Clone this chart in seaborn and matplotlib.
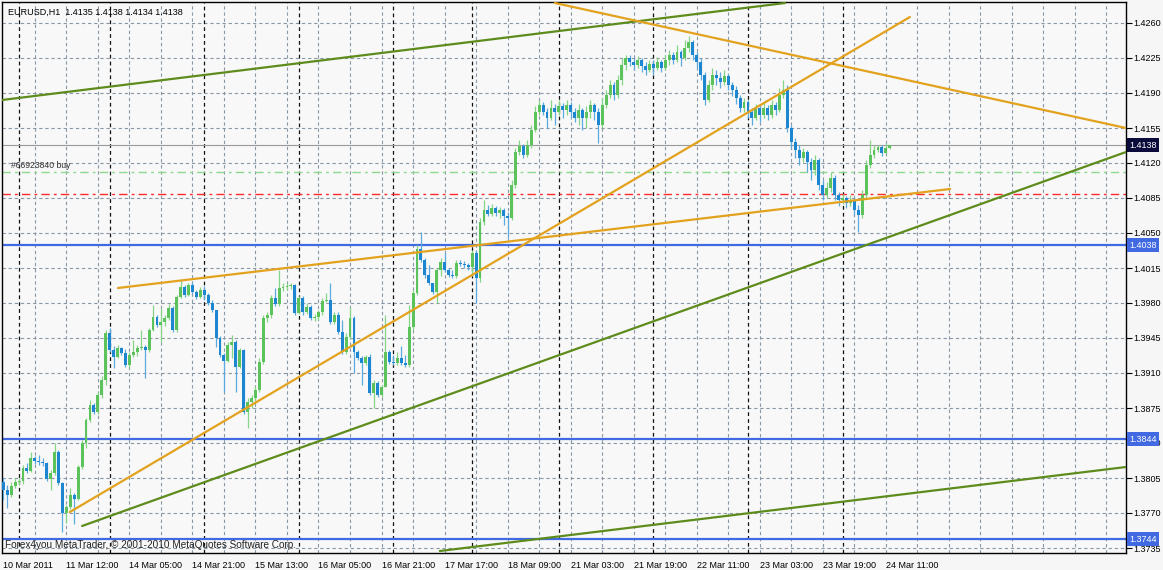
import numpy as np
import pandas as pd
import matplotlib
matplotlib.use("Agg")
import matplotlib.pyplot as plt
import matplotlib.transforms as mtransforms
import seaborn as sns

# ---------------- data (EURUSD H1 candles) ----------------
first_open = 1.3801
closes = [
    1.3793, 1.3788, 1.3797, 1.3801, 1.3802, 1.3815, 1.3812, 1.3825, 1.3822, 1.3821,
    1.3820, 1.3804, 1.3810, 1.3831, 1.3800, 1.3770, 1.3776, 1.3788, 1.3784, 1.3816,
    1.3840, 1.3863, 1.3878, 1.3871, 1.3888, 1.3903, 1.3950, 1.3933, 1.3926, 1.3935,
    1.3930, 1.3918, 1.3928, 1.3931, 1.3935, 1.3936, 1.3933, 1.3953, 1.3966, 1.3958,
    1.3961, 1.3965, 1.3975, 1.3953, 1.3986, 1.3996, 1.3988, 1.3998, 1.3991, 1.3986,
    1.3993, 1.3988, 1.3980, 1.3973, 1.3945, 1.3928, 1.3922, 1.3938, 1.3941, 1.3916,
    1.3933, 1.3871, 1.3881, 1.3885, 1.3893, 1.3921, 1.3965, 1.3968, 1.3985, 1.3979,
    1.3995, 1.3996, 1.3997, 1.3998, 1.3970, 1.3985, 1.3971, 1.3976, 1.3965, 1.3966,
    1.3971, 1.3982, 1.3983, 1.3961, 1.3968, 1.3951, 1.3931, 1.3946, 1.3965, 1.3931,
    1.3925, 1.3920, 1.3926, 1.3890, 1.3900, 1.3888, 1.3896, 1.3931, 1.3921, 1.3920,
    1.3925, 1.3920, 1.3918, 1.3956, 1.3990, 1.4034, 1.4023, 1.4008, 1.4000, 1.3991,
    1.4013, 1.4021, 1.4013, 1.4008, 1.4007, 1.4020, 1.4019, 1.4018, 1.4016, 1.4030,
    1.4005, 1.4061, 1.4073, 1.4069, 1.4075, 1.4070, 1.4073, 1.4067, 1.4065, 1.4098,
    1.4131, 1.4137, 1.4128, 1.4138, 1.4153, 1.4171, 1.4178, 1.4171, 1.4165, 1.4175,
    1.4171, 1.4177, 1.4173, 1.4178, 1.4171, 1.4165, 1.4173, 1.4165, 1.4171, 1.4178,
    1.4171, 1.4158, 1.4178, 1.4188, 1.4198, 1.4188, 1.4203, 1.4218, 1.4225, 1.4221,
    1.4218, 1.4223, 1.4217, 1.4213, 1.4219, 1.4215, 1.4221, 1.4215, 1.4223, 1.4228,
    1.4223, 1.4231, 1.4225, 1.4235, 1.4241, 1.4228, 1.4221, 1.4208, 1.4183, 1.4198,
    1.4208, 1.4205, 1.4201, 1.4207, 1.4198, 1.4193, 1.4185, 1.4175, 1.4181, 1.4171,
    1.4165, 1.4175, 1.4168, 1.4175, 1.4168, 1.4178, 1.4173, 1.4188, 1.4193, 1.4155,
    1.4141, 1.4133, 1.4125, 1.4131, 1.4121, 1.4113, 1.4123, 1.4098, 1.4088, 1.4095,
    1.4105, 1.4088, 1.4083, 1.4085, 1.4080, 1.4083, 1.4073, 1.4068, 1.4088, 1.4118,
    1.4128, 1.4133, 1.4136, 1.4130, 1.4135, 1.4138,
]
highs = [
    1.3805, 1.3798, 1.3801, 1.3805, 1.3805, 1.3818, 1.3820, 1.3831, 1.3827, 1.3828,
    1.3825, 1.3821, 1.3813, 1.3840, 1.3833, 1.3801, 1.3778, 1.3795, 1.3790, 1.3818,
    1.3843, 1.3865, 1.3883, 1.3880, 1.3891, 1.3907, 1.3953, 1.3955, 1.3937, 1.3938,
    1.3936, 1.3934, 1.3931, 1.3943, 1.3938, 1.3953, 1.3938, 1.3955, 1.3978, 1.3968,
    1.3975, 1.3968, 1.3979, 1.3977, 1.3988, 1.4003, 1.3998, 1.4000, 1.4001, 1.3993,
    1.3996, 1.3997, 1.3990, 1.3983, 1.3973, 1.3947, 1.3930, 1.3941, 1.3948, 1.3943,
    1.3935, 1.3934, 1.3885, 1.3888, 1.3897, 1.3925, 1.3968, 1.3971, 1.3988, 1.3995,
    1.4013, 1.4000, 1.4000, 1.4000, 1.3999, 1.3987, 1.3987, 1.3980, 1.3978, 1.3969,
    1.3973, 1.3985, 1.3990, 1.4000, 1.3971, 1.3971, 1.3963, 1.3950, 1.3976, 1.3967,
    1.3933, 1.3927, 1.3928, 1.3929, 1.3903, 1.3902, 1.3898, 1.3968, 1.3933, 1.3928,
    1.3931, 1.3937, 1.3928, 1.3978, 1.3993, 1.4038, 1.4051, 1.4025, 1.4018, 1.4000,
    1.4015, 1.4025, 1.4030, 1.4015, 1.4013, 1.4023, 1.4023, 1.4022, 1.4020, 1.4033,
    1.4033, 1.4065, 1.4083, 1.4078, 1.4079, 1.4077, 1.4076, 1.4075, 1.4071, 1.4103,
    1.4135, 1.4143, 1.4139, 1.4143, 1.4158, 1.4177, 1.4183, 1.4181, 1.4175, 1.4183,
    1.4179, 1.4183, 1.4180, 1.4183, 1.4181, 1.4175, 1.4179, 1.4175, 1.4177, 1.4183,
    1.4180, 1.4175, 1.4185, 1.4193, 1.4203, 1.4201, 1.4208, 1.4225, 1.4228, 1.4228,
    1.4225, 1.4227, 1.4225, 1.4221, 1.4223, 1.4223, 1.4226, 1.4223, 1.4228, 1.4233,
    1.4231, 1.4238, 1.4233, 1.4243, 1.4247, 1.4243, 1.4231, 1.4225, 1.4211, 1.4203,
    1.4215, 1.4213, 1.4211, 1.4213, 1.4209, 1.4201, 1.4197, 1.4188, 1.4185, 1.4183,
    1.4175, 1.4179, 1.4177, 1.4181, 1.4178, 1.4183, 1.4181, 1.4195, 1.4203, 1.4198,
    1.4158, 1.4145, 1.4138, 1.4135, 1.4133, 1.4125, 1.4128, 1.4125, 1.4103, 1.4101,
    1.4111, 1.4108, 1.4091, 1.4089, 1.4087, 1.4088, 1.4085, 1.4078, 1.4093, 1.4123,
    1.4143, 1.4138, 1.4138, 1.4138, 1.4140, 1.4138,
]
lows = [
    1.3783, 1.3775, 1.3786, 1.3795, 1.3798, 1.3799, 1.3810, 1.3811, 1.3819, 1.3818,
    1.3817, 1.3802, 1.3793, 1.3808, 1.3798, 1.3751, 1.3760, 1.3774, 1.3759, 1.3783,
    1.3814, 1.3835, 1.3861, 1.3869, 1.3869, 1.3885, 1.3898, 1.3931, 1.3915, 1.3925,
    1.3928, 1.3916, 1.3915, 1.3926, 1.3927, 1.3933, 1.3905, 1.3931, 1.3952, 1.3956,
    1.3941, 1.3957, 1.3963, 1.3951, 1.3951, 1.3985, 1.3986, 1.3987, 1.3989, 1.3984,
    1.3985, 1.3983, 1.3978, 1.3971, 1.3936, 1.3926, 1.3891, 1.3921, 1.3925, 1.3891,
    1.3915, 1.3869, 1.3855, 1.3875, 1.3879, 1.3891, 1.3919, 1.3961, 1.3965, 1.3977,
    1.3977, 1.3992, 1.3993, 1.3994, 1.3968, 1.3969, 1.3968, 1.3969, 1.3963, 1.3962,
    1.3963, 1.3968, 1.3981, 1.3959, 1.3959, 1.3949, 1.3929, 1.3929, 1.3944, 1.3910,
    1.3923, 1.3898, 1.3918, 1.3888, 1.3875, 1.3886, 1.3886, 1.3896, 1.3919, 1.3918,
    1.3918, 1.3918, 1.3916, 1.3916, 1.3953, 1.3988, 1.4021, 1.4005, 1.3998, 1.3989,
    1.3980, 1.4007, 1.4011, 1.4006, 1.4005, 1.4005, 1.4017, 1.4015, 1.4013, 1.4007,
    1.3980, 1.4001, 1.4058, 1.4067, 1.4067, 1.4067, 1.4065, 1.4058, 1.4045, 1.4063,
    1.4095, 1.4128, 1.4125, 1.4126, 1.4135, 1.4151, 1.4168, 1.4168, 1.4155, 1.4163,
    1.4158, 1.4168, 1.4165, 1.4168, 1.4165, 1.4161, 1.4158, 1.4153, 1.4155, 1.4165,
    1.4163, 1.4140, 1.4155, 1.4175, 1.4185, 1.4183, 1.4185, 1.4198, 1.4213, 1.4217,
    1.4213, 1.4215, 1.4211, 1.4208, 1.4211, 1.4208, 1.4213, 1.4211, 1.4213, 1.4218,
    1.4219, 1.4221, 1.4217, 1.4223, 1.4231, 1.4223, 1.4215, 1.4203, 1.4178, 1.4181,
    1.4193, 1.4198, 1.4195, 1.4198, 1.4193, 1.4187, 1.4179, 1.4171, 1.4171, 1.4165,
    1.4158, 1.4163, 1.4161, 1.4165, 1.4163, 1.4165, 1.4168, 1.4171, 1.4185, 1.4151,
    1.4135, 1.4125, 1.4118, 1.4121, 1.4111, 1.4103, 1.4108, 1.4093, 1.4083, 1.4085,
    1.4091, 1.4083, 1.4077, 1.4079, 1.4075, 1.4077, 1.4068, 1.4051, 1.4065, 1.4085,
    1.4115, 1.4125, 1.4131, 1.4127, 1.4130, 1.4134,
]

# time axis labels (bar index -> label)
time_label_bars = [0, 16, 32, 48, 64, 80, 96, 112, 128, 144, 160, 176, 192, 208, 224]
time_labels = ["10 Mar 2011", "11 Mar 12:00", "14 Mar 05:00", "14 Mar 21:00",
               "15 Mar 13:00", "16 Mar 05:00", "16 Mar 21:00", "17 Mar 17:00",
               "18 Mar 09:00", "21 Mar 03:00", "21 Mar 19:00", "22 Mar 11:00",
               "23 Mar 03:00", "23 Mar 19:00", "24 Mar 11:00"]
day_separator_bars = [4, 27, 51, 75, 99, 119, 141, 165, 189, 213]

# price scale
price_ticks = [1.3735, 1.3770, 1.3805, 1.3840, 1.3875, 1.3910, 1.3945, 1.3980,
               1.4015, 1.4050, 1.4085, 1.4120, 1.4155, 1.4190, 1.4225, 1.4260]

# horizontal levels
blue_levels = [1.4038, 1.3844, 1.3744]
bid_price = 1.4138
order_buy_price = 1.4111
order_sl_price = 1.4089
order_label = "#66923840 buy"

# trend lines: name, (bar, price) start, (bar, price) end
trend_names = ["g_top", "o_down", "o_up", "o_flat", "g_mid", "g_low"]
trend_bar0 = [-0.3, 140.0, 16.9, 29.1, 20.0, 110.8]
trend_p0 = [1.4183, 1.4280, 1.3771, 1.3995, 1.3757, 1.3732]
trend_bar1 = [198.4, 284.95, 230.1, 240.3, 284.95, 284.95]
trend_p1 = [1.4280, 1.4155, 1.4266, 1.4094, 1.4131, 1.3816]
trend_kind = ["green", "orange", "orange", "orange", "green", "green"]

header_text = "EURUSD,H1  1.4135 1.4138 1.4134 1.4138"
copyright_text = "Forex4you MetaTrader, \u00a9 2001-2010 MetaQuotes Software Corp."

# ---------------- style ----------------
sns.set_theme(style="white")
plt.rcParams['font.family'] = ['Liberation Sans', 'DejaVu Sans']

PLOT_BG = "#F8F8F8"
FIG_BG = "#F6F6F6"
UP_BODY = "#5CC35C"
UP_WICK = "#86D486"
DN_BODY = "#1C87D0"
DN_WICK = "#5AAAE0"
GRID_C = "#8A98A6"
ORANGE = "#E3A21E"
GREEN = "#5E8C1C"
ROYAL = "#4169E1"

W, H = 1163, 570
fig = plt.figure(figsize=(W / 100, H / 100), dpi=100, facecolor=FIG_BG)
L, R, T, B = 2, 1126, 2, 553
ax = fig.add_axes([L / W, (H - B) / H, (R - L) / W, (B - T) / H])
ax.set_facecolor(PLOT_BG)
ax.set_xlim(-0.33, 284.95)
ax.set_ylim(1.3730, 1.4281)

n = len(closes)
bars = np.arange(n)
opens = np.array([first_open] + closes[:-1])
c = np.array(closes)
hi = np.maximum.reduce([np.array(highs), opens, c])
lo = np.minimum.reduce([np.array(lows), opens, c])
up = c >= opens

# grid
for p in price_ticks:
    ax.axhline(p, color=GRID_C, lw=0.8, ls=(0, (3, 2.5)), zorder=1)
for b in range(8, 290, 8):
    ax.axvline(b, color=GRID_C, lw=0.8, ls=(0, (3, 2.5)), zorder=1)
for b in day_separator_bars:
    ax.axvline(b, color="#111111", lw=0.9, ls=(0, (3, 2.5)), zorder=1.2)

# horizontal levels
ax.axhline(bid_price, color="#9A9A9A", lw=0.8, zorder=2)
ax.axhline(order_buy_price, color="#8FD88F", lw=1.0, ls=(0, (6, 3, 2, 3)), zorder=2)
ax.axhline(order_sl_price, color="#FF2A2A", lw=1.0, ls=(0, (6, 3, 2, 3)), zorder=2)
for p in blue_levels:
    ax.axhline(p, color=ROYAL, lw=1.6, zorder=2.5)

# candles
df = pd.DataFrame({"bar": bars, "open": opens, "close": c, "high": hi, "low": lo,
                   "dir": np.where(up, "up", "down")})
wick_cols = np.where(up, UP_WICK, DN_WICK)
body_cols = np.where(up, UP_BODY, DN_BODY)
ax.vlines(df["bar"], df["low"], df["high"], colors=wick_cols, lw=0.9, zorder=3)
body_bottom = np.minimum(opens, c)
body_h = np.maximum(np.abs(c - opens), 0.00008)
ax.bar(df["bar"], body_h, bottom=body_bottom, width=0.74, color=body_cols,
       linewidth=0, zorder=3.5)

# trend lines via seaborn
rows = []
for nm, b0, p0, b1, p1, k in zip(trend_names, trend_bar0, trend_p0, trend_bar1, trend_p1, trend_kind):
    rows.append({"line": nm, "bar": b0, "price": p0})
    rows.append({"line": nm, "bar": b1, "price": p1})
tdf = pd.DataFrame(rows)
pal = {nm: (GREEN if k == "green" else ORANGE) for nm, k in zip(trend_names, trend_kind)}
sns.lineplot(data=tdf, x="bar", y="price", hue="line", palette=pal, units="line",
             estimator=None, sort=False, legend=False, lw=1.6, ax=ax, zorder=4)

# axes styling
for s in ax.spines.values():
    s.set_color("#000000")
    s.set_linewidth(1.0)
ax.set_xlabel("")
ax.set_ylabel("")
ax.yaxis.tick_right()
ax.set_yticks(price_ticks)
ax.set_yticklabels([f"{p:.4f}" for p in price_ticks], fontsize=6.5, color="#000000")
ax.tick_params(axis="y", direction="out", length=4, width=0.8, pad=1, colors="#000000")
ax.set_xticks(time_label_bars)
ax.set_xticklabels(time_labels, fontsize=6.5, ha="left", color="#000000")
ax.set_xticks([b for b in range(8, 285, 16)], minor=True)
ax.tick_params(axis="x", which="major", direction="out", length=4, width=0.8, pad=2, colors="#000000")
ax.tick_params(axis="x", which="minor", direction="out", length=2, width=0.8, colors="#000000")
ax.grid(False)

# texts
fig.text(8 / W, 1 - 12 / H, header_text, fontsize=6.5, va="center", ha="left", color="#000000")
ax.text(2.0, order_buy_price + 0.0006, order_label, fontsize=6.2, va="center", ha="left",
        color="#333333", zorder=5)
fig.text(5 / W, 1 - 545 / H, copyright_text, fontsize=7.2, va="center", ha="left",
         color="#222222")

# price boxes on the right axis
blend = mtransforms.blended_transform_factory(fig.transFigure, ax.transData)
for p, fc in [(bid_price, "#0B0B3B")] + [(b, ROYAL) for b in blue_levels]:
    ax.text(1129 / W, p, f"{p:.4f}", transform=blend, fontsize=6.5, color="white",
            va="center", ha="left", zorder=10, clip_on=False,
            bbox=dict(boxstyle="square,pad=0.25", fc=fc, ec="none"))

fig.savefig("out.png", dpi=100, facecolor=FIG_BG)
